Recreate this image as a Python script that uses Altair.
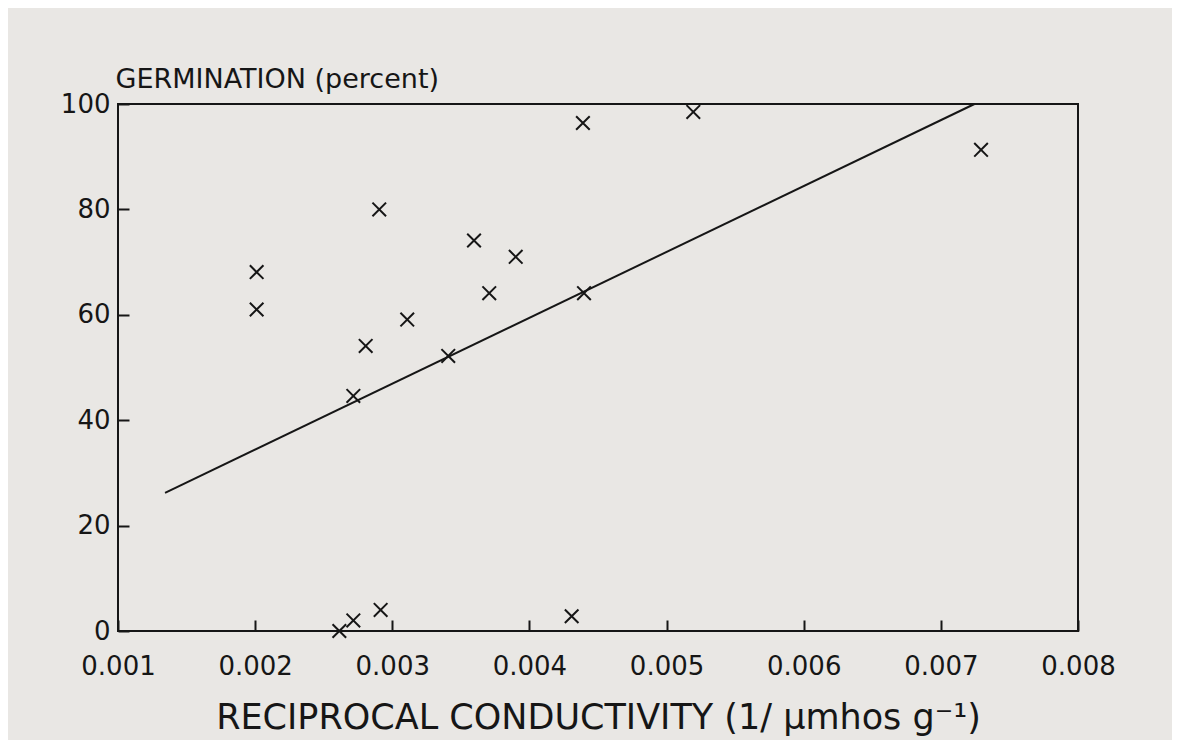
import altair as alt
import pandas as pd

# Reciprocal conductivity (1/ umhos g-1) and germination (%)
reciprocal_conductivity = [0.002011, 0.002011, 0.002905, 0.002806, 0.002716, 0.003109,
                           0.003408, 0.003596, 0.003707, 0.003900, 0.004390, 0.004398,
                           0.005195, 0.007293, 0.002614, 0.002716, 0.002915, 0.004308]
germination = [68.1, 61.0, 80.0, 54.1, 44.6, 59.1,
               52.2, 74.1, 64.1, 71.0, 96.4, 64.1,
               98.5, 91.3, 0.0, 2.0, 4.0, 2.8]

# Fitted regression line end points
fit_x = [0.001343, 0.007245]
fit_y = [26.2, 100.0]

x_ticks = [0.001, 0.002, 0.003, 0.004, 0.005, 0.006, 0.007, 0.008]
y_ticks = [0, 20, 40, 60, 80, 100]

x_title = "RECIPROCAL CONDUCTIVITY (1/ \u03bcmhos g\u207b\u00b9)"
y_title = "GERMINATION (percent)"

pts = pd.DataFrame({"x": reciprocal_conductivity, "y": germination})
fit = pd.DataFrame({"x": fit_x, "y": fit_y})

W, H = 960, 527
FONT = "DejaVu Sans"
INK = "#161616"
PAPER = "#e9e7e4"

xscale = alt.Scale(domain=[0.001, 0.008], nice=False, zero=False)
yscale = alt.Scale(domain=[0, 100], nice=False, zero=False)

x_main = alt.Axis(orient="bottom", values=x_ticks, format=".3f", domain=False,
                  ticks=False, tickSize=0, grid=False, labelFlush=False,
                  labelOverlap=False, labelFont=FONT, labelFontSize=26,
                  labelColor=INK, labelPadding=22, title=x_title,
                  titleFont=FONT, titleFontSize=35, titleFontWeight="normal",
                  titleColor=INK, titleY=97, titleBaseline="alphabetic")
y_main = alt.Axis(orient="left", values=y_ticks, domain=False, ticks=False,
                  tickSize=0, grid=False, labelOverlap=False, labelFlush=False,
                  labelFont=FONT, labelFontSize=26, labelColor=INK,
                  labelPadding=8, title=y_title, titleFont=FONT,
                  titleFontSize=27, titleFontWeight="normal", titleColor=INK,
                  titleAngle=0, titleAlign="left", titleBaseline="alphabetic",
                  titleX=-3, titleY=-17)

# inward-pointing ticks: opposite-side axes moved onto the plot edges
x_in = alt.Axis(orient="top", offset=-H, values=x_ticks, labels=False,
                domain=False, grid=False, ticks=True, tickSize=11, tickWidth=2,
                tickColor=INK, title=None)
y_in = alt.Axis(orient="right", offset=-W, values=y_ticks, labels=False,
                domain=False, grid=False, ticks=True, tickSize=11, tickWidth=2,
                tickColor=INK, title=None)

points = alt.Chart(pts).mark_point(
    shape="M-1,-1L1,1M-1,1L1,-1", size=185, filled=False,
    strokeWidth=2, color=INK, opacity=1
).encode(
    x=alt.X("x:Q", scale=xscale, axis=x_main),
    y=alt.Y("y:Q", scale=yscale, axis=y_main),
)

line = alt.Chart(fit).mark_line(color=INK, strokeWidth=2).encode(
    x=alt.X("x:Q", scale=xscale, axis=x_in),
    y=alt.Y("y:Q", scale=yscale, axis=y_in),
)

chart = alt.layer(line, points).resolve_axis(
    x="independent", y="independent"
).properties(
    width=W, height=H,
    autosize=alt.AutoSizeParams(type="none"),
    padding={"left": 110, "top": 96, "right": 94, "bottom": 109},
    background=PAPER,
).configure_view(
    stroke=INK, strokeWidth=2, fill=PAPER
)

chart.save("out.html", embed_options={"renderer": "svg", "actions": False})
